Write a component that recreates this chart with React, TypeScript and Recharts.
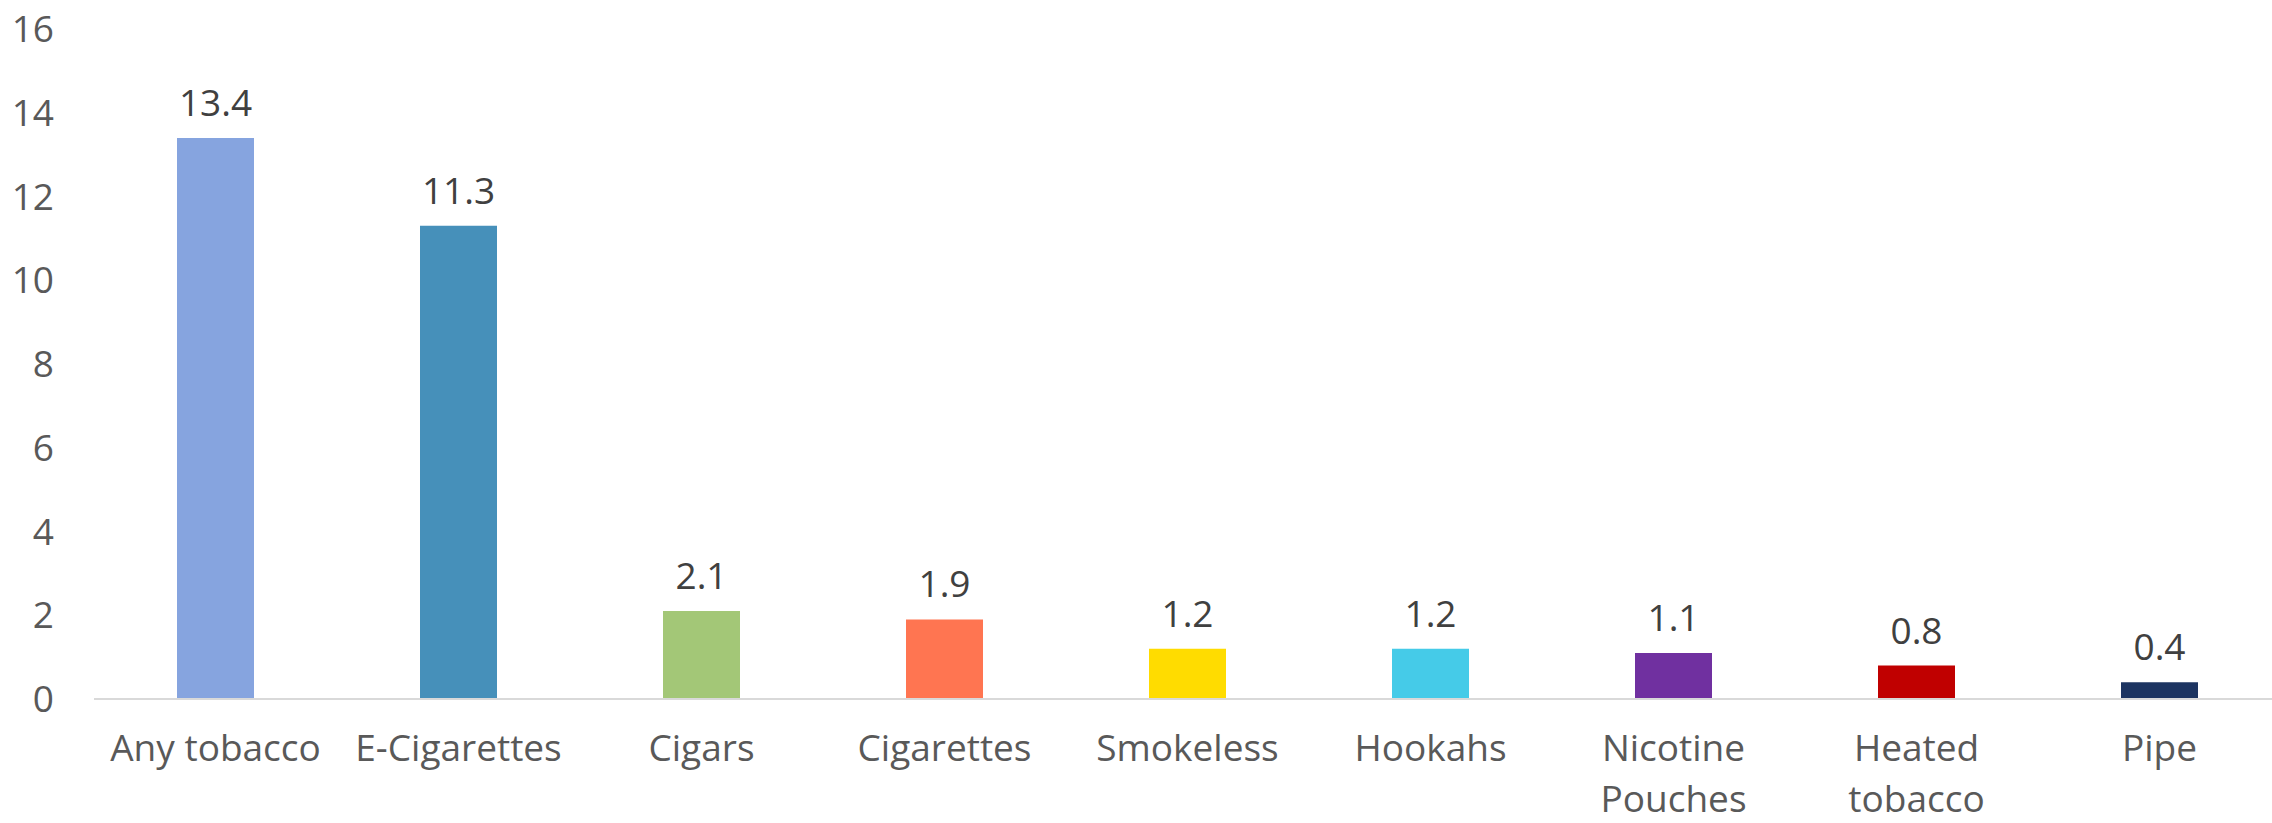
import { BarChart, Bar, XAxis, YAxis, Cell, LabelList } from 'recharts';

const categories = [
  'Any tobacco',
  'E-Cigarettes',
  'Cigars',
  'Cigarettes',
  'Smokeless',
  'Hookahs',
  'Nicotine\nPouches',
  'Heated\ntobacco',
  'Pipe',
];

const values = [13.4, 11.3, 2.1, 1.9, 1.2, 1.2, 1.1, 0.8, 0.4];

const barColors = [
  '#86a4df',
  '#4690ba',
  '#a3c777',
  '#ff7551',
  '#ffdc00',
  '#45cbe8',
  '#7030a0',
  '#c00000',
  '#1c3461',
];

const yTicks = [0, 2, 4, 6, 8, 10, 12, 14, 16];

const data = categories.map((name, i) => ({ name, value: values[i] }));

// two-line category labels, Excel style
const CategoryTick = (props: any) => {
  const { x, y, payload } = props;
  const lines = String(payload.value).split('\n');
  return (
    <g transform={`translate(${x},${y})`}>
      {lines.map((line, i) => (
        <text
          key={i}
          x={0}
          y={62 + i * 51}
          textAnchor="middle"
          fill="#595959"
          fontSize={37}
        >
          {line}
        </text>
      ))}
    </g>
  );
};

export default function App() {
  return (
    <div
      style={{
        position: 'absolute',
        left: 0,
        top: 0,
        width: 2272,
        height: 823,
        overflow: 'hidden',
        background: '#ffffff',
        fontFamily: '"Open Sans", sans-serif',
      }}
    >
      <BarChart
        width={2281}
        height={823}
        data={data}
        margin={{ top: 29, right: 0, left: 0, bottom: 0 }}
      >
        <XAxis
          dataKey="name"
          interval={0}
          height={124}
          axisLine={{ stroke: '#d9d9d9', strokeWidth: 2 }}
          tickLine={false}
          tickSize={0}
          tickMargin={0}
          tick={<CategoryTick />}
        />
        <YAxis
          width={94}
          domain={[0, 16]}
          ticks={yTicks}
          interval={0}
          axisLine={false}
          tickLine={false}
          tickSize={6}
          tickMargin={34}
          tick={{ fill: '#595959', fontSize: 37 }}
        />
        <Bar dataKey="value" barSize={77} isAnimationActive={false}>
          {data.map((entry, index) => (
            <Cell key={`cell-${index}`} fill={barColors[index]} />
          ))}
          <LabelList
            dataKey="value"
            position="top"
            offset={22}
            fill="#404040"
            fontSize={37}
          />
        </Bar>
      </BarChart>
    </div>
  );
}
